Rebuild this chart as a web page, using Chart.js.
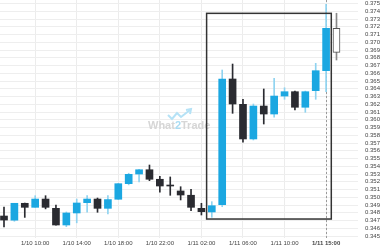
<!DOCTYPE html>
<html>
<head>
<meta charset="utf-8">
<script src="https://cdn.jsdelivr.net/npm/chart.js@4"></script>
<style>
  html, body { margin: 0; padding: 0; background: #fff; }
  #wrap { width: 380px; height: 250px; }
</style>
</head>
<body>
<div id="wrap"><canvas id="chart"></canvas></div>
<script>
// hourly candles, index 0 = 1/10 07:00
var opens  = [0.34758, 0.34704, 0.34922, 0.34870, 0.34977, 0.34857, 0.34642, 0.34797, 0.34930, 0.34977, 0.34857,
              0.34974, 0.35175, 0.35300, 0.35355, 0.35232, 0.35145, 0.35081, 0.35026, 0.34857, 0.34810, 0.34904,
              0.36526, 0.36199, 0.35752, 0.36177, 0.36074, 0.36306, 0.36362, 0.36161, 0.36375, 0.36633, 0.37180];
var highs  = [0.34874, 0.34922, 0.34925, 0.35020, 0.35020, 0.34900, 0.34810, 0.34977, 0.35020, 0.34990, 0.35020,
              0.35180, 0.35310, 0.35360, 0.35416, 0.35270, 0.35262, 0.35136, 0.35103, 0.34922, 0.34943, 0.36642,
              0.36719, 0.36264, 0.36203, 0.36397, 0.36535, 0.36413, 0.36370, 0.36370, 0.36728, 0.37490, 0.37374];
var lows   = [0.34616, 0.34690, 0.34740, 0.34870, 0.34850, 0.34640, 0.34620, 0.34670, 0.34806, 0.34806, 0.34784,
              0.34970, 0.35160, 0.35197, 0.35214, 0.35064, 0.35025, 0.34965, 0.34826, 0.34771, 0.34741, 0.34878,
              0.36083, 0.35710, 0.35739, 0.35945, 0.36032, 0.36264, 0.36126, 0.36096, 0.36264, 0.36362, 0.36771];
var closes = [0.34706, 0.34922, 0.34870, 0.34977, 0.34870, 0.34642, 0.34797, 0.34926, 0.34977, 0.34857, 0.34970,
              0.35175, 0.35296, 0.35355, 0.35232, 0.35145, 0.35145, 0.35029, 0.34870, 0.34814, 0.34891, 0.36526,
              0.36203, 0.35752, 0.36177, 0.36074, 0.36306, 0.36362, 0.36161, 0.36362, 0.36633, 0.37180, 0.36870];

var xTicks  = [3, 7, 11, 15, 19, 23, 27, 31];
var xLabels = ['1/10 10:00', '1/10 14:00', '1/10 18:00', '1/10 22:00', '1/11 02:00', '1/11 06:00', '1/11 10:00', '1/11 15:00'];
var yTicks  = [];
for (var t = 345; t <= 375; t++) yTicks.push(t / 1000);

var boxX = [19.5, 31.5];
var boxY = [0.34719, 0.37373];
var markerX = 31;

var BLUE = '#1ba7e1', DARK = '#2a2b31', LIGHT = '#8fd3f0';
var last = opens.length - 1;

function isUp(i) { return closes[i] > opens[i]; }

var bodies = opens.map(function (o, i) { return { x: i, y: [o, closes[i]] }; });
var wicks  = opens.map(function (o, i) { return { x: i, y: [lows[i], highs[i]] }; });

var overlay = {
  id: 'overlay',
  beforeDatasetsDraw: function (chart) {
    var c = chart.ctx;
    // watermark
    c.save();
    c.font = 'bold 11px "Liberation Sans", Arial, sans-serif';
    c.textBaseline = 'middle';
    var parts = [['What', '#d6d6d6'], ['2', '#a9dcf3'], ['Trade', '#d6d6d6']];
    var x = 148;
    parts.forEach(function (p) {
      c.fillStyle = p[1];
      c.fillText(p[0], x, 126);
      x += c.measureText(p[0]).width;
    });
    c.strokeStyle = '#b5e2f6';
    c.lineWidth = 2;
    c.beginPath();
    c.moveTo(168, 115); c.lineTo(172, 119); c.lineTo(177, 113); c.lineTo(181, 117); c.lineTo(190, 110);
    c.stroke();
    c.beginPath();
    c.moveTo(186, 110); c.lineTo(191, 109); c.lineTo(190, 114);
    c.stroke();
    c.restore();
    // crosshair line
    var xs = chart.scales.x, a = chart.chartArea;
    var px = Math.round(xs.getPixelForValue(markerX)) + 0.5;
    c.save();
    c.strokeStyle = '#9a9a9a';
    c.lineWidth = 1;
    c.setLineDash([2, 2]);
    c.beginPath();
    c.moveTo(px, a.top); c.lineTo(px, a.bottom);
    c.stroke();
    c.restore();
  },
  afterDatasetsDraw: function (chart) {
    var c = chart.ctx, xs = chart.scales.x, ys = chart.scales.y;
    var l = xs.getPixelForValue(boxX[0]), r = xs.getPixelForValue(boxX[1]);
    var t = ys.getPixelForValue(boxY[1]), b = ys.getPixelForValue(boxY[0]);
    c.save();
    c.strokeStyle = '#333';
    c.lineWidth = 1.5;
    c.strokeRect(l, t, r - l, b - t);
    c.restore();
  }
};

new Chart(document.getElementById('chart'), {
  type: 'bar',
  data: {
    datasets: [{
      label: 'body',
      data: bodies,
      grouped: false,
      order: 1,
      barThickness: 7,
      minBarLength: 1,
      borderSkipped: false,
      backgroundColor: opens.map(function (o, i) { return i === last ? '#ffffff' : (isUp(i) ? BLUE : DARK); }),
      borderColor: opens.map(function (o, i) { return i === last ? '#555' : (isUp(i) ? BLUE : DARK); }),
      borderWidth: opens.map(function (o, i) { return i === last ? 1 : 0; })
    }, {
      label: 'wick',
      data: wicks,
      grouped: false,
      order: 2,
      barThickness: 1,
      borderSkipped: false,
      backgroundColor: opens.map(function (o, i) { return i === last ? '#888' : (isUp(i) ? LIGHT : DARK); })
    }]
  },
  options: {
    responsive: true,
    maintainAspectRatio: false,
    animation: false,
    layout: { padding: 0 },
    plugins: { legend: { display: false }, tooltip: { enabled: false } },
    scales: {
      x: {
        type: 'linear',
        offset: false,
        min: -0.385,
        max: 34.07,
        afterBuildTicks: function (s) { s.ticks = xTicks.map(function (v) { return { value: v }; }); },
        afterFit: function (s) { s.height = 12; s.paddingLeft = 0; s.paddingRight = 0; },
        grid: { color: '#ececec', drawTicks: false, offset: false },
        border: { display: false },
        ticks: {
          padding: 2,
          maxRotation: 0,
          autoSkip: false,
          color: '#444',
          font: function (ctx) {
            return { size: 6, family: '"Liberation Sans", Arial, sans-serif', weight: ctx.tick && ctx.tick.value === markerX ? 'bold' : 'normal' };
          },
          callback: function (v) { var k = xTicks.indexOf(v); return k >= 0 ? xLabels[k] : ''; }
        }
      },
      y: {
        position: 'right',
        min: 0.344742,
        max: 0.375452,
        afterBuildTicks: function (s) { s.ticks = yTicks.map(function (v) { return { value: v }; }); },
        afterFit: function (s) { s.width = 22; s.paddingTop = 0; s.paddingBottom = 0; },
        grid: { color: '#eeeeee', drawTicks: false },
        border: { display: false },
        ticks: {
          padding: 7,
          autoSkip: false,
          color: '#444',
          font: { size: 6, family: '"Liberation Sans", Arial, sans-serif' },
          callback: function (v) { return v.toFixed(3); }
        }
      }
    }
  },
  plugins: [overlay]
});
</script>
</body>
</html>
